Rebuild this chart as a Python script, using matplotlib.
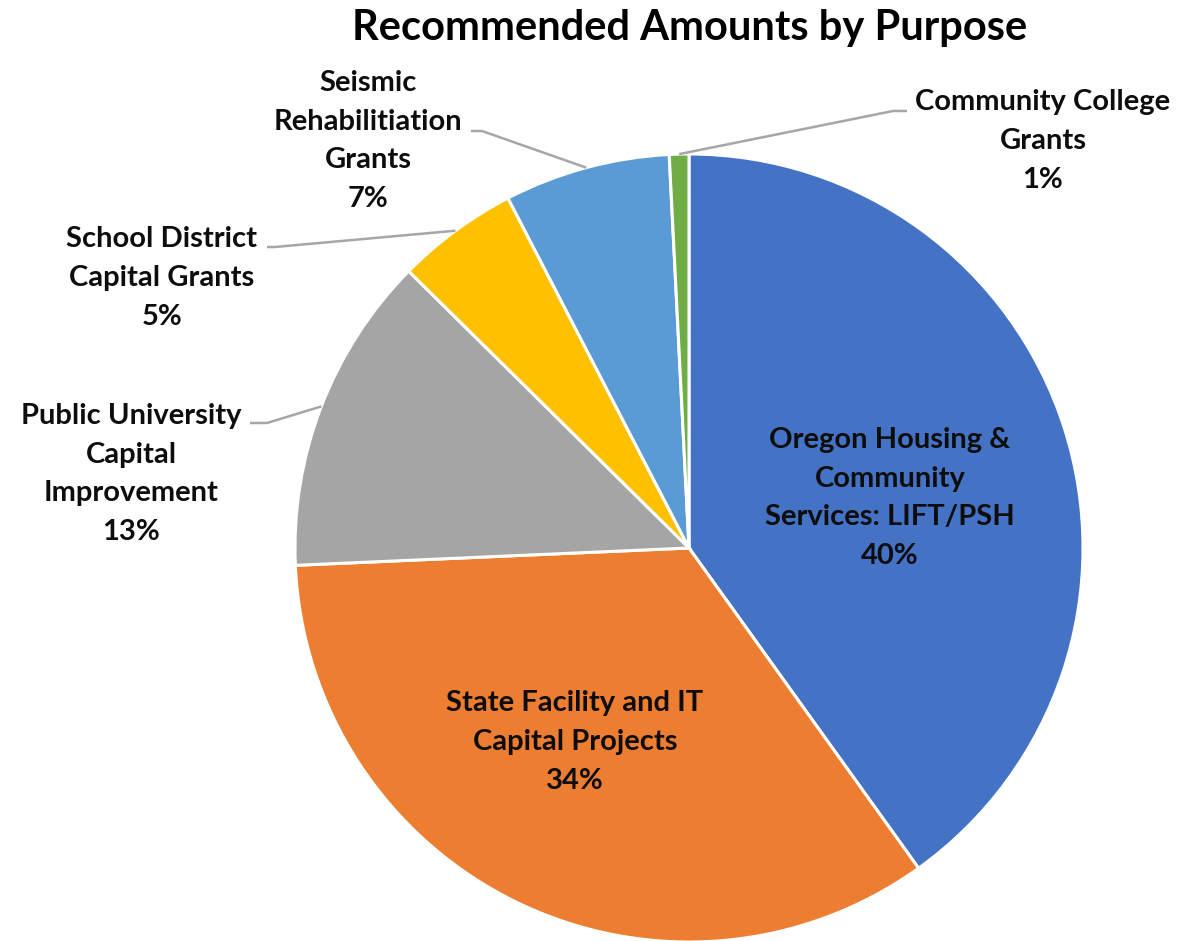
import matplotlib

matplotlib.use("AGG")
import numpy as np
import matplotlib.pyplot as plt

# slice data, clockwise from 12 o'clock
purposes = [
    "Oregon Housing &\nCommunity\nServices: LIFT/PSH",
    "State Facility and IT\nCapital Projects",
    "Public University\nCapital\nImprovement",
    "School District\nCapital Grants",
    "Seismic\nRehabilitiation\nGrants",
    "Community College\nGrants",
]
shares = [40.1, 34.2, 13.1, 5.0, 6.8, 0.8]
pct_labels = ["40%", "34%", "13%", "5%", "7%", "1%"]
colors = ["#4472C4", "#ED7D31", "#A5A5A5", "#FFC000", "#5B9BD5", "#70AD47"]

W, H = 1179, 941
font = "Lato"

fig = plt.figure(figsize=(W / 100, H / 100), dpi=100)
ax = fig.add_axes([0, 0, 1, 1])

cx, cy, r = 689, H - 548, 394  # pie centre / radius in pixel units
wedges, _ = ax.pie(
    shares,
    colors=colors,
    startangle=90,
    counterclock=False,
    center=(cx, cy),
    radius=r,
    wedgeprops=dict(edgecolor="white", linewidth=2.2),
)
ax.set_xlim(0, W)
ax.set_ylim(0, H)
ax.set_aspect("equal")
ax.axis("off")

ax.text(690, H - 28, "Recommended Amounts by Purpose", ha="center", va="center",
        fontsize=30, fontweight="bold", family=font)

# inside labels (x, y in pixels from top)
inside = {0: (890, 498), 1: (575, 742)}
# outside labels: text centre, bend point, line end
outside = {
    2: ((131, 474), (267, 423), (250, 423)),
    3: ((162, 278), (275, 247), (267, 247)),
    4: ((368, 141), (482, 131), (471, 131)),
    5: ((1043, 141), (893, 111), (907, 111)),
}

for i, w in enumerate(wedges):
    txt = purposes[i] + "\n" + pct_labels[i]
    if i in inside:
        x, y = inside[i]
    else:
        (x, y), (bx, by), (ex, ey) = outside[i]
        mid = np.deg2rad((w.theta1 + w.theta2) / 2)
        sx, sy = cx + r * np.cos(mid), cy + r * np.sin(mid)
        ax.plot([sx, bx, ex], [sy, H - by, H - ey], color="#A6A6A6", lw=1.8,
                solid_capstyle="butt")
    ax.text(x, H - y, txt, ha="center", va="center", fontsize=21,
            fontweight="bold", family=font, linespacing=1.6, color="#0d0d0d")

fig.savefig("out.png", dpi=100)
